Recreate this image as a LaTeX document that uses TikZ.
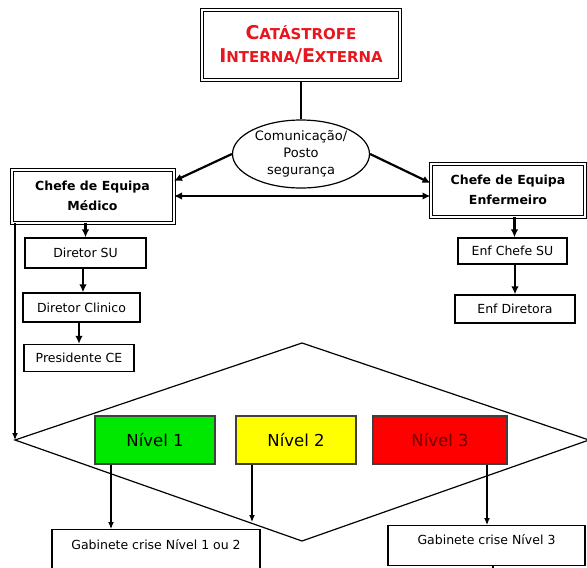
\documentclass[tikz,border=0pt]{standalone}
\usepackage{fontspec}
\setmainfont{DejaVu Sans}
\usetikzlibrary{arrows.meta,shapes.geometric}
\definecolor{titlered}{RGB}{232,22,30}
\definecolor{lvlgreen}{RGB}{0,232,0}
\definecolor{lvlyellow}{RGB}{255,255,0}
\definecolor{lvlred}{RGB}{255,0,0}
\definecolor{darkred}{RGB}{110,0,0}
\newcommand\capsword[2]{{\fontsize{19}{23}\selectfont #1}{\fontsize{15}{23}\selectfont #2}}
\begin{document}
\begin{tikzpicture}[x=1pt,y=-1pt,
  dblbox/.style={draw, double, double distance=2pt, line width=1pt, fill=white,
                 inner sep=0pt, align=center},
  box/.style={draw, line width=1.3pt, fill=white, inner sep=0pt, align=center,
              font=\fontsize{12.5}{15}\selectfont},
  lvl/.style={draw=black!75, line width=1.2pt, inner sep=0pt,
              minimum height=48pt, font=\fontsize{16.5}{19}\selectfont},
  thickarr/.style={-{Latex[length=8pt,width=7.5pt]}, line width=2.2pt},
  botharr/.style={{Latex[length=8pt,width=7.5pt]}-{Latex[length=8pt,width=7.5pt]}, line width=2.2pt},
  thinarr/.style={-{Latex[length=7pt,width=6pt]}, line width=1.2pt},
]
\useasboundingbox (0,0) rectangle (587,568);
\clip (0,0) rectangle (587,568);

% top level: the event
\node[dblbox, minimum width=198pt, minimum height=70pt,
      text=titlered, font=\bfseries\fontsize{19}{23}\selectfont]
  (cat) at (301,45) {\capsword{C}{ATÁSTROFE}\\\capsword{I}{NTERNA}/\capsword{E}{XTERNA}};

% communication hub
\node[draw, ellipse, line width=1.2pt, minimum width=137pt, minimum height=68pt,
      inner sep=0pt, align=center, font=\fontsize{13}{17}\selectfont]
  (com) at (301,154) {Comunicação/\\Posto\\segurança};

% team leaders
\node[dblbox, minimum width=162pt, minimum height=53pt,
      font=\bfseries\fontsize{12.5}{20}\selectfont]
  (med) at (92.5,196) {Chefe de Equipa\\Médico};
\node[dblbox, minimum width=154pt, minimum height=53pt,
      font=\bfseries\fontsize{12.5}{20}\selectfont]
  (enf) at (508,190) {Chefe de Equipa\\Enfermeiro};

% medical chain
\node[box, minimum width=121pt, minimum height=30pt] (dsu) at (85.5,253) {Diretor SU};
\node[box, minimum width=117pt, minimum height=29pt] (dcl) at (81.5,307.5) {Diretor Clinico};
\node[box, minimum width=110pt, minimum height=27pt] (pce) at (79,358) {Presidente CE};

% nursing chain
\node[box, minimum width=109pt, minimum height=26pt] (ecs) at (512.5,251) {Enf Chefe SU};
\node[box, minimum width=120pt, minimum height=28pt] (edi) at (515,309) {Enf Diretora};

% alert levels
\coordinate (dl) at (15,440);
\coordinate (dt) at (302,343);
\coordinate (dr) at (589,440);
\coordinate (db) at (302,541);
\draw[line width=1.2pt] (dl) -- (dt) -- (dr) -- (db) -- cycle;

\node[lvl, fill=lvlgreen, minimum width=120pt] (n1) at (155,440) {Nível 1};
\node[lvl, fill=lvlyellow, minimum width=120pt] (n2) at (296,440) {Nível 2};
\node[lvl, fill=lvlred, minimum width=134pt, text=darkred] (n3) at (440,440) {Nível 3};

% crisis offices
\node[box, font=\fontsize{12.5}{15}\selectfont, minimum width=208pt, anchor=north,
      inner ysep=6pt, text height=14pt, text depth=30pt]
  (g12) at (156,529) {Gabinete crise Nível 1 ou 2};
\node[box, font=\fontsize{12.5}{15}\selectfont, minimum width=197pt,
      inner ysep=4pt, text height=15pt, text depth=17pt, anchor=north]
  (g3) at (486.5,525) {Gabinete crise Nível 3};

% connectors, upper part
\draw[line width=2.2pt] (cat) -- (com);
\draw[thickarr] (com.west) -- ([yshift=-12pt]med.north east);
\draw[thickarr] (com.east) -- ([yshift=-20pt]enf.north west);
\draw[botharr] (med.east) -- (enf.west |- med.east);

\draw[thickarr] (dsu.north |- med.south) -- (dsu.north);
\draw[thickarr] ([xshift=-2.5pt]dsu.south) -- ([xshift=-2.5pt]dsu.south |- dcl.north);
\draw[thickarr] (dcl.south -| pce.north) -- (pce.north);
\draw[thickarr] ([xshift=2pt]ecs.north |- enf.south) -- ([xshift=2pt]ecs.north);
\draw[thickarr] (edi.north |- ecs.south) -- (edi.north);

% connectors, lower part
\draw[thinarr] (dl |- med.south) -- (dl);
\coordinate (n2end) at (252,522);
\coordinate (g3out) at (493,580);
\draw[thinarr] (n1.south -| 111,0) -- (g12.north -| 111,0);
\draw[thinarr] (n2.south -| n2end) -- (n2end);
\draw[thinarr] (n3.south -| 487,0) -- (g3.north -| 487,0);
\draw[line width=1.2pt] (g3.south -| g3out) -- (g3out);
\end{tikzpicture}
\end{document}
